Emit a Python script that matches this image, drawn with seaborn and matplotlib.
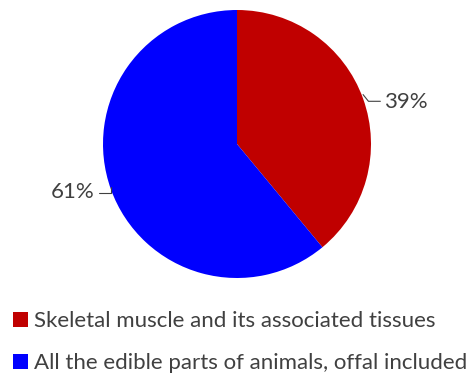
import matplotlib
matplotlib.use("Agg")
import matplotlib.pyplot as plt
import seaborn as sns
import numpy as np

categories = ["Skeletal muscle and its associated tissues",
              "All the edible parts of animals, offal included"]
shares = [39, 61]
colors = ["#C00000", "#0000FF"]

sns.set_theme(style="white")
plt.rcParams["font.family"] = ["Lato", "DejaVu Sans"]
text_color = "#404040"

W, H = 476, 375
fig = plt.figure(figsize=(W / 100, H / 100), dpi=100)

# pie centre and radius in pixels
cx, cy, r = 237, 144, 134
ax = fig.add_axes([(cx - r) / W, (H - cy - r) / H, 2 * r / W, 2 * r / H])
wedges, _ = ax.pie(shares, colors=colors, startangle=90, counterclock=False,
                   radius=1, wedgeprops=dict(linewidth=0))
ax.set_xlim(-1, 1)
ax.set_ylim(-1, 1)
ax.set_aspect("equal")
ax.axis("off")

# percentage labels with leader lines
label_pos = [(1.10, 0.31, "left"), (-1.06, -0.36, "right")]
for w, val, (tx, ty, ha) in zip(wedges, shares, label_pos):
    ang = np.deg2rad((w.theta1 + w.theta2) / 2)
    px, py = np.cos(ang), np.sin(ang)
    if ha == "left":
        xs = [px, px + 0.04, tx - 0.03]
        ys = [py + 0.03, py - 0.02, py - 0.02]
    else:
        xs = [px, px, tx + 0.03]
        ys = [py + 0.02, py - 0.03, py - 0.03]
    ax.plot(xs, ys, color=text_color, lw=0.8, clip_on=False)
    ax.text(tx, ty, f"{val}%", ha=ha, va="center", fontsize=16,
            color=text_color, clip_on=False)

leg = fig.legend(wedges, categories, loc="upper left",
                 bbox_to_anchor=(4 / W, 1 - 302 / H), frameon=False,
                 fontsize=16, handlelength=0.66, handleheight=0.66,
                 handletextpad=0.3, labelspacing=1.0, borderaxespad=0)
for t in leg.get_texts():
    t.set_color(text_color)

fig.savefig("out.png", dpi=100)
